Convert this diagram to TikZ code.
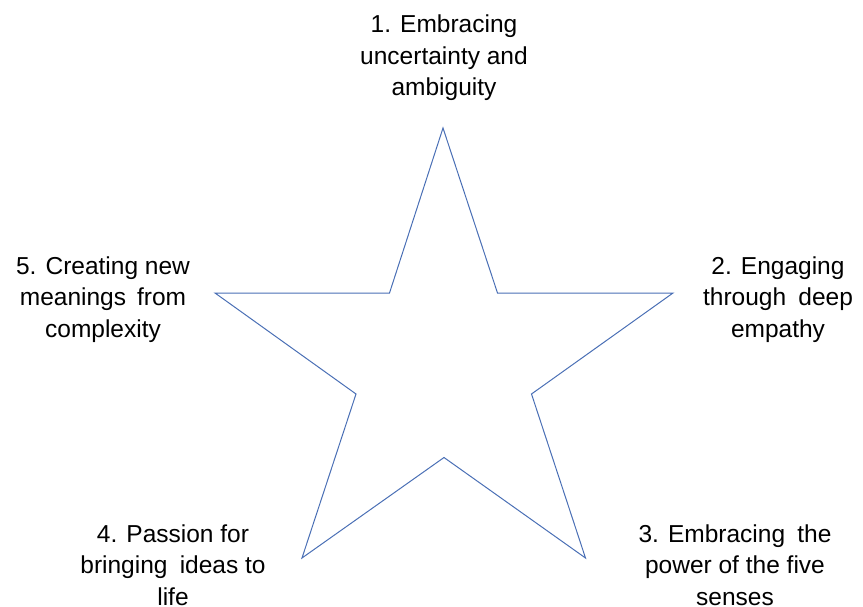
\documentclass[tikz,border=0pt]{standalone}
\usepackage{fontspec}
\setmainfont{Liberation Sans}
\begin{document}
\begin{tikzpicture}[x=1pt,y=-1pt,
  lbl/.style={anchor=base,align=center,inner sep=0pt,font=\fontsize{24.5}{31.5}\selectfont},
  starline/.style={draw=starblue,line width=1pt,line join=miter}]
\definecolor{starblue}{HTML}{4A6FB5}
\useasboundingbox (0,0) rectangle (863,607);
\coordinate (p1) at (443,128);
\coordinate (i1) at (497.5,293);
\coordinate (p2) at (673,293);
\coordinate (i2) at (531.5,394);
\coordinate (p3) at (585.5,558);
\coordinate (i3) at (444,457.5);
\coordinate (p4) at (302,558);
\coordinate (i4) at (356,394);
\coordinate (p5) at (215,293);
\coordinate (i5) at (389.5,293);
\draw[starline] (p1) -- (i1) -- (p2) -- (i2) -- (p3) -- (i3) -- (p4) -- (i4) -- (p5) -- (i5) -- cycle;
\node[lbl] (t1) at (444,96) {1. Embracing\\uncertainty and\\ambiguity};
\node[lbl] (t2) at (778,337) {2. Engaging\\through\hspace{0.5em}deep\\empathy};
\node[lbl] (t3) at (735,605) {3. Embracing\hspace{0.5em}the\\power of the five\\senses};
\node[lbl] (t4) at (173,605) {4. Passion for\\bringing\hspace{0.5em}ideas to\\life};
\node[lbl] (t5) at (103,337) {5. Creating new\\meanings\hspace{0.45em}from\\complexity};
\end{tikzpicture}
\end{document}
